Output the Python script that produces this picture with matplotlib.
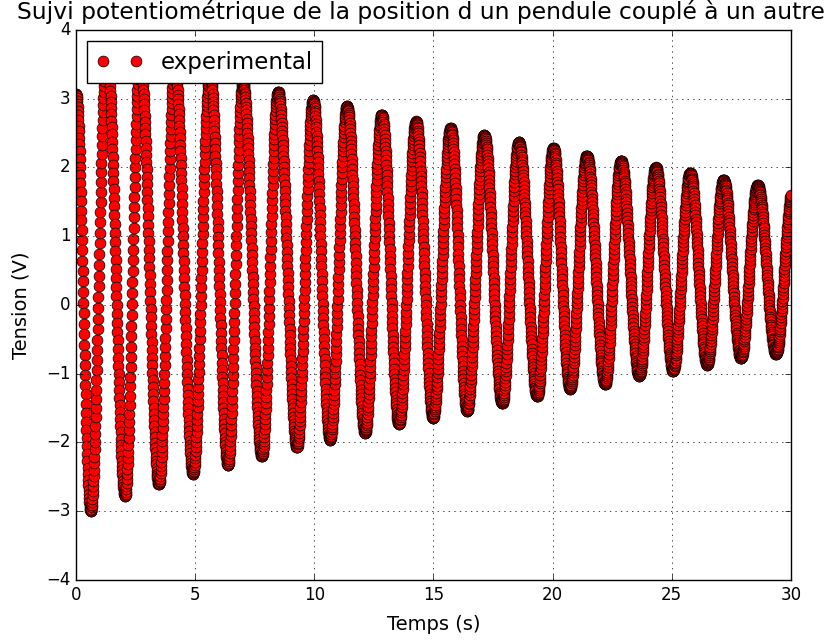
import numpy as np
import matplotlib
matplotlib.use('Agg')
import matplotlib.pyplot as plt

peak_t = [0.0, 1.29, 2.69, 4.15, 5.62, 7.00, 8.48, 9.95, 11.37, 12.83, 14.27,
          15.72, 17.13, 18.58, 20.03, 21.43, 22.87, 24.33, 25.77, 27.17, 28.60, 30.07]
peak_v = [3.07, 3.70, 3.60, 3.48, 3.36, 3.23, 3.10, 2.98, 2.89, 2.77, 2.67,
          2.57, 2.47, 2.37, 2.28, 2.17, 2.10, 2.00, 1.92, 1.82, 1.74, 1.66]
trough_t = [0.62, 2.06, 3.48, 4.91, 6.38, 7.80, 9.27, 10.66, 12.13, 13.55, 14.98,
            16.41, 17.88, 19.35, 20.73, 22.20, 23.63, 25.05, 26.48, 27.90, 29.37]
trough_v = [-3.00, -2.78, -2.61, -2.46, -2.33, -2.20, -2.07, -1.96, -1.86, -1.73, -1.64,
            -1.54, -1.43, -1.33, -1.22, -1.15, -1.03, -0.96, -0.87, -0.77, -0.71]
dt = 0.01  # sampling step of the acquisition

# rebuild the sampled signal between successive extrema (half cosine swings)
ext_t = np.array(sorted(peak_t + trough_t))
ext_v = np.array([v for _, v in sorted(zip(peak_t + trough_t, peak_v + trough_v))])
t = np.arange(0, 30 + dt / 2, dt)
k = np.clip(np.searchsorted(ext_t, t, side='right') - 1, 0, len(ext_t) - 2)
frac = (t - ext_t[k]) / (ext_t[k + 1] - ext_t[k])
u = ext_v[k] + (ext_v[k + 1] - ext_v[k]) * (1 - np.cos(np.pi * frac)) / 2

plt.style.use('classic')
plt.rcParams['font.family'] = ['DejaVu Sans']

fig = plt.figure(figsize=(8.33, 6.41), facecolor='white')
ax = fig.add_axes([0.0912, 0.0952, 0.8583, 0.858])
ax.plot(t, u, 'o', color='red', markeredgecolor='black', markeredgewidth=0.5,
        markersize=7.8, label='experimental')
ax.set_xlim(0, 30)
ax.set_ylim(-4, 4)
ax.grid(True)
ax.set_xlabel('Temps (s)', fontsize=14, labelpad=8)
ax.set_ylabel('Tension (V)', fontsize=14, labelpad=11)
ax.set_title('Sujvi potentiométrique de la position d un pendule couplé à un autre',
             fontsize=16.8, x=0.483, y=1.008)
ax.tick_params(labelsize=12)
ax.legend(loc='upper left', numpoints=2, fontsize=16.5)

fig.savefig('out.png', dpi=100, facecolor='white')
